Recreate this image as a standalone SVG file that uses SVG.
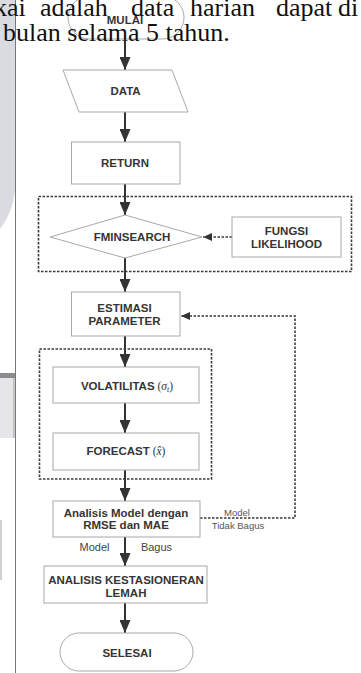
<svg xmlns="http://www.w3.org/2000/svg" width="361" height="673" viewBox="0 0 361 673">
<style>
.bg{font-family:"Liberation Serif","Times New Roman",serif;font-size:26px;fill:#111}
.node{fill:#fff;stroke:#a9a9a9;stroke-width:1}
.lbl{font-family:"Liberation Sans",Arial,sans-serif;font-weight:bold;font-size:11.5px;fill:#353535;text-anchor:middle}
.math{font-family:"Liberation Serif","Times New Roman",serif;font-weight:normal;font-style:italic;fill:#353535}
.par{font-family:"Liberation Serif","Times New Roman",serif;font-weight:normal;fill:#353535}
.cap{font-family:"Liberation Sans",Arial,sans-serif;font-size:11px;fill:#444;text-anchor:middle}
.capS{font-family:"Liberation Sans",Arial,sans-serif;font-size:9.5px;fill:#555;text-anchor:middle}
.flow{stroke:#333;stroke-width:2;fill:none}
.dash{stroke:#3a3a3a;stroke-width:1.6;stroke-dasharray:2.5 1.5;fill:none}
.box{stroke:#3a3a3a;stroke-width:1.6;stroke-dasharray:2.5 1.5;fill:none}
</style>
<defs>
<marker id="ah" markerUnits="userSpaceOnUse" markerWidth="14" markerHeight="11" refX="13" refY="5.5" orient="auto">
<path d="M0,0 L13,5.5 L0,11 z" fill="#333"/>
</marker>
<marker id="ahs" markerUnits="userSpaceOnUse" markerWidth="10" markerHeight="8" refX="9" refY="4" orient="auto">
<path d="M0,0 L9,4 L0,8 z" fill="#333"/>
</marker>
</defs>
<rect width="361" height="673" fill="#fff"/>
<g id="page-margin">
<path d="M0,0 H15 V190 Q13,212 0,229 Z" fill="#d9dbe0"/>
<rect x="0" y="373" width="15" height="5" fill="#8c8c8c"/>
<rect x="0" y="378" width="14" height="60" fill="#e6e6e8"/>
<line x1="14" y1="378" x2="14" y2="438" stroke="#9a9a9a" stroke-width="1"/>
<line x1="1" y1="520" x2="1" y2="580" stroke="#d0d0d0" stroke-width="2"/>
<line x1="15.5" y1="0" x2="15.5" y2="673" stroke="#777" stroke-width="1"/>
</g>
<g id="mulai">
<rect class="node" x="68" y="-4" width="116" height="43" rx="21.5"/>
<text class="lbl" x="125" y="24">MULAI</text>
</g>
<g id="page-text">
<text class="bg" x="-6" y="16">kai</text>
<text class="bg" x="40" y="16">adalah</text>
<text class="bg" x="131" y="16">data</text>
<text class="bg" x="190" y="16">harian</text>
<text class="bg" x="276" y="16">dapat</text>
<text class="bg" x="338" y="16">di</text>
<text class="bg" x="3" y="41">bulan selama 5 tahun.</text>
</g>
<g id="containers">
<rect class="box" x="38.5" y="196.5" width="313" height="75"/>
<rect class="box" x="39.5" y="349" width="172" height="130"/>
</g>
<g id="connectors">
<line class="flow" x1="125" y1="39" x2="125" y2="70" marker-end="url(#ah)"/>
<line class="flow" x1="125" y1="112" x2="125" y2="142" marker-end="url(#ah)"/>
<line class="flow" x1="125" y1="184" x2="125" y2="215" marker-end="url(#ah)"/>
<line class="flow" x1="125" y1="258" x2="125" y2="292" marker-end="url(#ah)"/>
<line class="flow" x1="125" y1="336" x2="125" y2="367" marker-end="url(#ah)"/>
<line class="flow" x1="125" y1="403" x2="125" y2="433" marker-end="url(#ah)"/>
<line class="flow" x1="125" y1="470" x2="125" y2="501" marker-end="url(#ah)"/>
<line class="flow" x1="125" y1="537" x2="125" y2="566" marker-end="url(#ah)"/>
<line class="flow" x1="125" y1="603" x2="125" y2="633" marker-end="url(#ah)"/>
<line class="dash" x1="232" y1="237" x2="203" y2="237" marker-end="url(#ahs)"/>
<polyline class="dash" points="200,518 295,518 295,316 181,316" marker-end="url(#ahs)"/>
<text class="capS" x="237" y="516">Model</text>
<text class="capS" x="238" y="529">Tidak Bagus</text>
<text class="cap" x="94.5" y="551">Model</text>
<text class="cap" x="156.5" y="551">Bagus</text>
</g>
<g id="data">
<polygon class="node" points="63,70 172,70 188,112 79,112"/>
<text class="lbl" x="125.5" y="95">DATA</text>
</g>
<g id="return">
<rect class="node" x="71.5" y="142" width="108.5" height="42"/>
<text class="lbl" x="125" y="167">RETURN</text>
</g>
<g id="fminsearch">
<polygon class="node" points="125,215 202,237 125,258 50,237"/>
<text class="lbl" x="132" y="241">FMINSEARCH</text>
</g>
<g id="fungsi-likelihood">
<rect class="node" x="232" y="217" width="109" height="40"/>
<text class="lbl" x="286.5" y="235">FUNGSI</text>
<text class="lbl" x="286.5" y="248">LIKELIHOOD</text>
</g>
<g id="estimasi">
<rect class="node" x="71.5" y="292" width="108.5" height="44"/>
<text class="lbl" x="124.5" y="312">ESTIMASI</text>
<text class="lbl" x="124.5" y="324.5">PARAMETER</text>
</g>
<g id="volatilitas">
<rect class="node" x="53" y="367" width="146" height="36"/>
<text class="lbl" x="127" y="390">VOLATILITAS<tspan class="par"> (</tspan><tspan class="math">σ</tspan><tspan class="math" font-size="8" dy="2">t</tspan><tspan class="par" dy="-2">)</tspan></text>
</g>
<g id="forecast">
<rect class="node" x="53" y="433" width="146" height="37"/>
<text class="lbl" x="126" y="455">FORECAST<tspan class="par"> (</tspan><tspan class="math">x̂</tspan><tspan class="par">)</tspan></text>
</g>
<g id="analisis-model">
<rect class="node" x="53" y="501" width="147" height="36"/>
<text class="lbl" x="126" y="516.5">Analisis Model dengan</text>
<text class="lbl" x="126" y="529">RMSE dan MAE</text>
</g>
<g id="analisis-kestasioneran">
<rect class="node" x="44" y="566" width="163" height="37"/>
<text class="lbl" x="126" y="584">ANALISIS KESTASIONERAN</text>
<text class="lbl" x="126" y="596.5">LEMAH</text>
</g>
<g id="selesai">
<rect class="node" x="60" y="633" width="133" height="38" rx="19"/>
<text class="lbl" x="127" y="656.5">SELESAI</text>
</g>
</svg>
